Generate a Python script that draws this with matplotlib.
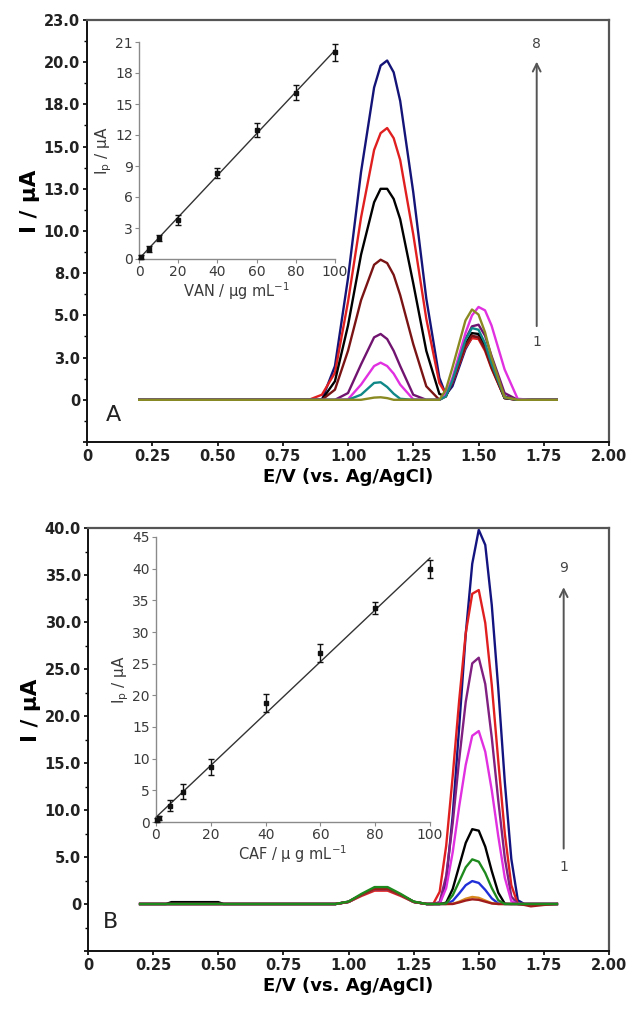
import matplotlib
matplotlib.use('Agg')
import matplotlib.pyplot as plt
import numpy as np

# ---- panel A: VAN (peak ~1.14 V) ----
a_potential = [0.20, 0.85, 0.90, 0.95, 1.00, 1.05, 1.10, 1.125, 1.15, 1.175, 1.20, 1.25, 1.30,
               1.35, 1.375, 1.40, 1.45, 1.475, 1.50, 1.525, 1.55, 1.60, 1.65, 1.70, 1.80]
a_curves = [
    [0, 0, 0, 0, 0, 0, 0.13, 0.15, 0.1, 0, 0, 0, 0, 0, 0.6, 1.9, 4.7, 5.35, 5.05, 4.0, 2.5, 0.16, 0, 0, 0],
    [0, 0, 0, 0, 0, 0.3, 1.0, 1.04, 0.76, 0.36, 0.06, 0, 0, 0, 0.2, 1.15, 3.55, 4.25, 4.15, 3.35, 2.15, 0.13, 0, 0, 0],
    [0, 0, 0, 0, 0.03, 0.9, 2.0, 2.2, 2.0, 1.55, 0.9, 0.03, 0, 0, 0.35, 1.3, 3.95, 5.0, 5.5, 5.3, 4.4, 1.8, 0.06, 0, 0],
    [0, 0, 0, 0, 0.4, 2.1, 3.7, 3.9, 3.6, 2.9, 2.0, 0.3, 0, 0, 0.25, 1.1, 3.6, 4.35, 4.45, 3.8, 2.6, 0.4, 0, 0, 0],
    [0, 0, 0, 0.6, 2.9, 5.9, 8.0, 8.3, 8.1, 7.4, 6.2, 3.3, 0.8, 0, 0.2, 1.05, 3.2, 3.8, 3.7, 3.0, 1.9, 0.1, 0, 0, 0],
    [0, 0, 0, 1.1, 4.4, 8.6, 11.7, 12.5, 12.5, 11.9, 10.7, 6.9, 2.9, 0.35, 0.2, 1.1, 3.3, 3.95, 3.9, 3.1, 2.0, 0.1, 0, 0, 0],
    [0, 0, 0.3, 1.6, 5.8, 10.8, 14.8, 15.8, 16.1, 15.5, 14.2, 9.8, 4.8, 1.0, 0.35, 1.0, 3.1, 3.65, 3.6, 2.9, 1.85, 0.1, 0, 0, 0],
    [0, 0, 0, 2.0, 7.2, 13.5, 18.5, 19.8, 20.1, 19.4, 17.7, 12.3, 6.0, 1.3, 0.3, 0.8, 3.0, 3.7, 3.75, 3.2, 2.1, 0.2, 0, 0, 0],
]
a_colors = ['#8a8a22', '#108888', '#e030e0', '#701470', '#7a1414', '#000000', '#e02020', '#141478']

van_conc = [1, 5, 10, 20, 40, 60, 80, 100]
van_ip = [0.2, 1.0, 2.0, 3.8, 8.3, 12.5, 16.1, 20.0]
van_err = [0.2, 0.3, 0.3, 0.5, 0.5, 0.7, 0.7, 0.8]

# ---- panel B: CAF (peak ~1.49 V) ----
b_potential = [0.20, 0.30, 0.32, 0.50, 0.52, 0.95, 1.00, 1.05, 1.10, 1.15, 1.20, 1.25, 1.30,
               1.325, 1.35, 1.375, 1.40, 1.425, 1.45, 1.475, 1.50, 1.525, 1.55, 1.575, 1.60,
               1.625, 1.65, 1.675, 1.70, 1.75, 1.80]
b_curves = [
    [0, 0, 0, 0, 0, 0, 0.23, 0.97, 1.6, 1.6, 0.97, 0.23, 0,
     0, 0, 0, 0, 0.17, 0.37, 0.5, 0.44, 0.25, 0.06, 0, 0, 0, 0, -0.1, -0.25, -0.1, 0],
    [0, 0, 0, 0, 0, 0, 0.23, 0.97, 1.6, 1.6, 0.97, 0.23, 0,
     0, 0, 0, 0.02, 0.25, 0.56, 0.75, 0.66, 0.37, 0.09, 0, 0, 0, 0, 0, 0, 0, 0],
    [0, 0, 0, 0, 0, 0, 0.23, 0.97, 1.6, 1.6, 0.97, 0.23, 0,
     0, 0, 0, 0.33, 1.13, 2.0, 2.44, 2.24, 1.5, 0.6, 0.05, 0, 0, 0, 0, 0, 0, 0],
    [0, 0, 0, 0, 0, 0, 0.26, 1.08, 1.8, 1.8, 1.08, 0.26, 0,
     0, 0, 0.06, 0.93, 2.4, 3.9, 4.75, 4.5, 3.3, 1.7, 0.4, 0, 0, 0, 0, 0, 0, 0],
    [0, 0, 0.2, 0.2, 0, 0, 0.23, 0.97, 1.6, 1.6, 0.97, 0.23, 0,
     0, 0, 0.14, 1.6, 4.05, 6.5, 7.96, 7.8, 6.1, 3.5, 1.2, 0.03, 0, 0, 0, 0, 0, 0],
    [0, 0, 0, 0, 0, 0, 0.23, 0.97, 1.6, 1.6, 0.97, 0.23, 0,
     0, 0, 1.7, 5.5, 10.4, 14.8, 17.9, 18.4, 16.2, 12.1, 7.2, 2.8, 0.3, 0, 0, 0, 0, 0],
    [0, 0, 0, 0, 0, 0, 0.23, 0.97, 1.6, 1.6, 0.97, 0.23, 0,
     0, 0.2, 3.0, 8.6, 15.4, 21.5, 25.6, 26.2, 23.4, 17.7, 11.0, 4.9, 0.8, 0, 0, 0, 0, 0],
    [0, 0, 0, 0, 0, 0, 0.21, 0.86, 1.42, 1.42, 0.86, 0.21, 0,
     0, 1.3, 6.2, 13.6, 21.7, 28.8, 33.0, 33.4, 29.9, 23.3, 15.2, 7.5, 2.0, 0, 0, 0, 0, 0],
    [0, 0, 0, 0, 0, 0, 0.23, 0.97, 1.6, 1.6, 0.97, 0.23, 0,
     0, 0, 2.4, 9.4, 18.9, 28.7, 36.2, 39.8, 38.2, 31.8, 22.9, 13.0, 4.8, 0.4, 0, 0, 0, 0],
]
b_colors = ['#a01c1c', '#d88a20', '#2030d8', '#1e8a1e', '#000000', '#e030e0', '#802080', '#e02020', '#141480']
b_order = [8, 7, 6, 5, 4, 2, 1, 0, 3]

caf_conc = [0.5, 1, 5, 10, 20, 40, 60, 80, 100]
caf_ip = [0.3, 0.6, 2.6, 4.8, 8.7, 18.8, 26.7, 33.8, 40.0]
caf_err = [0.3, 0.3, 0.8, 1.2, 1.3, 1.4, 1.4, 1.0, 1.4]

x_ticklabels = ['0', '0.25', '0.50', '0.75', '1.00', '1.25', '1.50', '1.75', '2.00']
a_ytick_labels = ['', '0', '3.0', '5.0', '8.0', '10.0', '13.0', '15.0', '18.0', '20.0', '23.0']
b_ytick_labels = ['', '0', '5.0', '10.0', '15.0', '20.0', '25.0', '30.0', '35.0', '40.0']

W, H = 629, 1010
fig = plt.figure(figsize=(W / 100, H / 100), dpi=100)


def box(l, t, r, b):
    return [l / W, 1 - b / H, (r - l) / W, (b - t) / H]


def style_main(ax, yticks, ylabels, yminor):
    ax.set_xlim(0, 2)
    ax.set_xticks(np.arange(0, 2.01, 0.25))
    ax.set_xticklabels(x_ticklabels)
    ax.set_yticks(yticks)
    ax.set_yticklabels(ylabels)
    ax.set_yticks(yminor, minor=True)
    ax.set_ylim(yticks[0], yticks[-1])
    ax.tick_params(axis='both', which='major', direction='out', length=3, width=1.2,
                   labelsize=10.5, pad=2)
    ax.tick_params(axis='y', which='minor', direction='out', length=2, width=1.0)
    for lab in ax.get_xticklabels() + ax.get_yticklabels():
        lab.set_fontweight('bold')
        lab.set_color('#222222')
    for side in ['left', 'bottom']:
        ax.spines[side].set_color('#111111')
        ax.spines[side].set_linewidth(1.4)
    for side in ['top', 'right']:
        ax.spines[side].set_color('#555555')
        ax.spines[side].set_linewidth(1.6)
    ax.set_xlabel('E/V (vs. Ag/AgCl)', fontsize=13, fontweight='bold', labelpad=3)
    ax.set_ylabel('I / μA', fontsize=15.5, fontweight='bold')
    ax.yaxis.set_label_coords(-0.09, 0.57)


def style_inset(ax, xmax, ymax, ystep, xlabel):
    ax.set_facecolor('none')
    ax.set_xlim(0, xmax)
    ax.set_ylim(0, ymax)
    ax.set_xticks(np.arange(0, xmax + 1, 20))
    ax.set_yticks(np.arange(0, ymax + 0.1, ystep))
    for side in ['top', 'right']:
        ax.spines[side].set_visible(False)
    for side in ['left', 'bottom']:
        ax.spines[side].set_color('#8a8a8a')
        ax.spines[side].set_linewidth(1.0)
    ax.tick_params(direction='out', length=3, width=0.8, color='#8a8a8a',
                   labelsize=10, labelcolor='#3a3a3a', pad=1.5)
    ax.set_xlabel(xlabel, fontsize=10.5, color='#3a3a3a', labelpad=1)
    ax.set_ylabel(r'I$_\mathrm{p}$ / μA', fontsize=11, color='#3a3a3a', labelpad=1)


def draw_inset(ax, conc, ip, err, xmax):
    slope, icpt = np.polyfit(conc, ip, 1)
    ax.plot([0, xmax], [icpt, slope * xmax + icpt], color='#333333', lw=1.0, clip_on=False)
    ax.errorbar(conc, ip, yerr=err, fmt='s', ms=3, color='#111111', ecolor='#111111',
                elinewidth=1.0, capsize=2.5, capthick=1.0, clip_on=False, zorder=3)


# ---- panel A ----
axA = fig.add_axes(box(87, 20, 609, 442))
for curve, col in reversed(list(zip(a_curves, a_colors))):
    axA.plot(a_potential, curve, color=col, lw=1.7, solid_joinstyle='round')
style_main(axA, np.arange(-2.5, 22.6, 2.5), a_ytick_labels, np.arange(-1.25, 22.5, 2.5))
axA.text(0.1, -0.9, 'A', fontsize=16, color='#222222', ha='center', va='center')
axA.annotate('', xy=(1.723, 20.2), xytext=(1.723, 4.2),
             arrowprops=dict(arrowstyle='->', color='#555555', lw=1.4, mutation_scale=14))
axA.text(1.723, 21.1, '8', fontsize=10, color='#444444', ha='center', va='center')
axA.text(1.723, 3.4, '1', fontsize=10, color='#444444', ha='center', va='center')

insA = fig.add_axes(box(139, 42, 335, 259))
style_inset(insA, 100, 21, 3, r'VAN / μg mL$^{-1}$')
draw_inset(insA, van_conc, van_ip, van_err, 100)

# ---- panel B ----
axB = fig.add_axes(box(88, 528, 609, 951))
for i in b_order:
    axB.plot(b_potential, b_curves[i], color=b_colors[i], lw=1.7, solid_joinstyle='round')
style_main(axB, np.arange(-5, 40.1, 5), b_ytick_labels, np.arange(-2.5, 40, 5))
axB.text(0.085, -1.95, 'B', fontsize=16, color='#222222', ha='center', va='center')
axB.annotate('', xy=(1.826, 34.0), xytext=(1.826, 5.6),
             arrowprops=dict(arrowstyle='->', color='#555555', lw=1.4, mutation_scale=14))
axB.text(1.826, 35.7, '9', fontsize=10, color='#444444', ha='center', va='center')
axB.text(1.826, 3.9, '1', fontsize=10, color='#444444', ha='center', va='center')

insB = fig.add_axes(box(156, 537, 430, 822))
style_inset(insB, 100, 45, 5, r'CAF / μ g mL$^{-1}$')
draw_inset(insB, caf_conc, caf_ip, caf_err, 100)

fig.savefig('out.png', dpi=100, facecolor='white')
